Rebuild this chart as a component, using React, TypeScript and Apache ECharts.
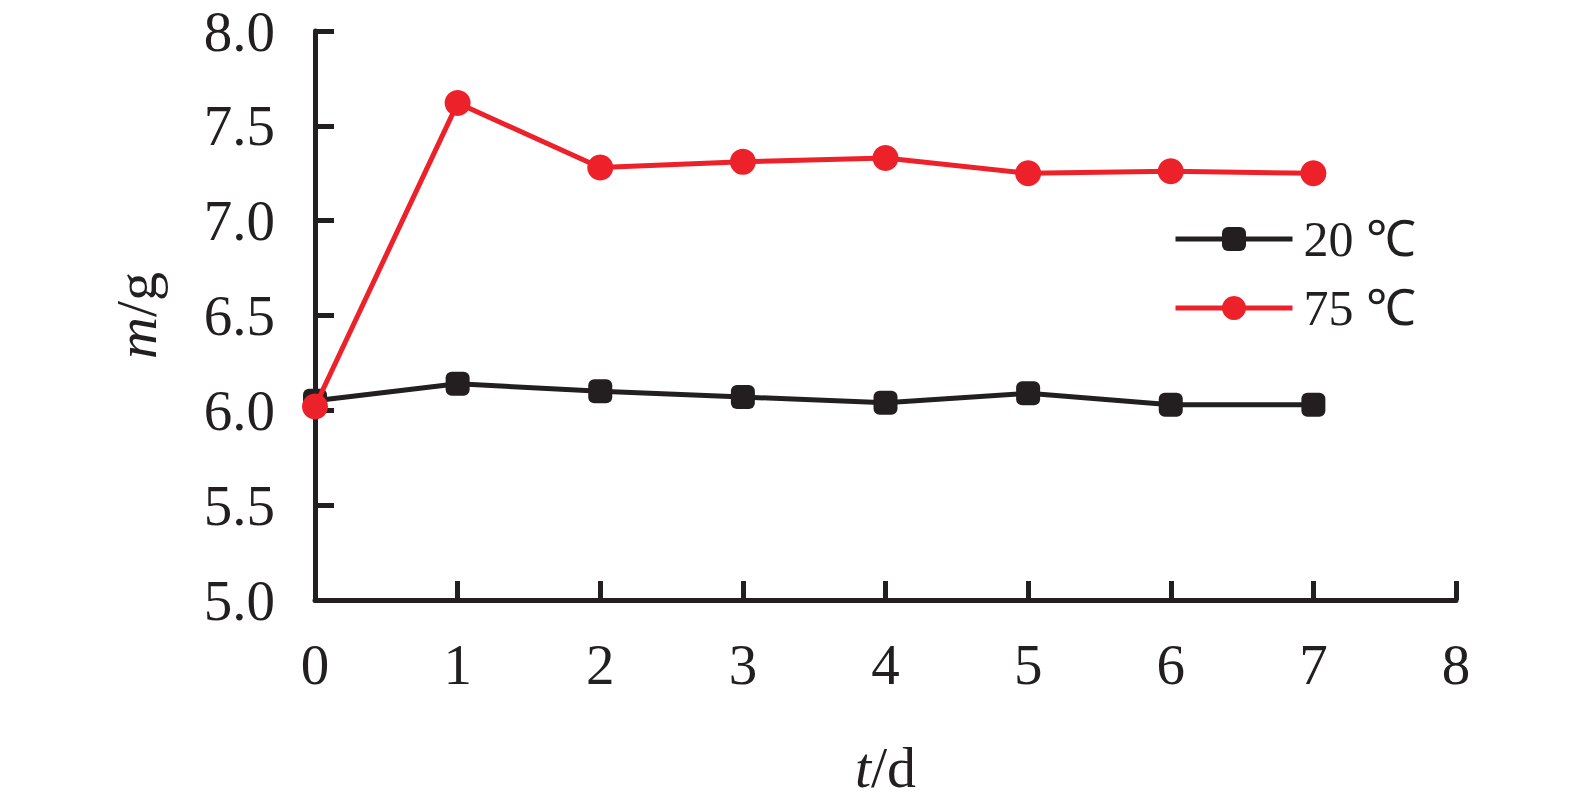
import React, { useEffect, useRef } from "react";
import * as echarts from "echarts";

const days = [0, 1, 2, 3, 4, 5, 6, 7];
const mass20 = [6.05, 6.14, 6.1, 6.07, 6.04, 6.09, 6.03, 6.03];
const mass75 = [6.02, 7.62, 7.28, 7.31, 7.33, 7.25, 7.26, 7.25];
const seriesNames = ["20 ℃", "75 ℃"];

const FONT = "'Liberation Serif', 'Times New Roman', serif";
const BLACK = "#231f20";
const RED = "#ed2129";

export default function App() {
  const ref = useRef<HTMLDivElement>(null);
  useEffect(() => {
    if (!ref.current) return;
    const chart = echarts.init(ref.current, undefined, { renderer: "svg" });
    chart.setOption({
      animation: false,
      backgroundColor: "#ffffff",
      grid: { left: 315, right: 119, top: 31, bottom: 205, containLabel: false },
      legend: {
        left: 1168,
        top: 209,
        orient: "vertical",
        itemWidth: 117,
        itemHeight: 30,
        itemGap: 19,
        lineStyle: { width: 5 },
        textStyle: {
          fontFamily: FONT,
          fontSize: 50,
          color: BLACK,
          padding: [0, 0, 0, 6],
        },
        data: seriesNames,
      },
      xAxis: {
        type: "value",
        min: 0,
        max: 8,
        interval: 1,
        name: "{i|t}/d",
        nameLocation: "middle",
        nameGap: 138,
        nameTextStyle: {
          fontFamily: FONT,
          fontSize: 58,
          color: BLACK,
          rich: { i: { fontFamily: FONT, fontSize: 58, fontStyle: "italic", color: BLACK } },
        },
        axisLine: { show: true, lineStyle: { color: BLACK, width: 5 } },
        axisTick: { show: true, inside: true, length: 19, lineStyle: { color: BLACK, width: 5 } },
        axisLabel: { fontFamily: FONT, fontSize: 57, color: BLACK, margin: 36 },
        splitLine: { show: false },
      },
      yAxis: {
        type: "value",
        min: 5,
        max: 8,
        interval: 0.5,
        name: "{i|m}/g",
        nameLocation: "middle",
        nameGap: 150,
        nameTextStyle: {
          fontFamily: FONT,
          fontSize: 58,
          color: BLACK,
          rich: { i: { fontFamily: FONT, fontSize: 58, fontStyle: "italic", color: BLACK } },
        },
        axisLine: { show: true, lineStyle: { color: BLACK, width: 5 } },
        axisTick: { show: true, inside: true, length: 19, lineStyle: { color: BLACK, width: 5 } },
        axisLabel: {
          fontFamily: FONT,
          fontSize: 57,
          color: BLACK,
          margin: 40,
          formatter: (v: number) => v.toFixed(1),
        },
        splitLine: { show: false },
      },
      series: [
        {
          name: seriesNames[0],
          type: "line",
          data: days.map((d, i) => [d, mass20[i]]),
          symbol: "roundRect",
          symbolSize: 24,
          lineStyle: { color: BLACK, width: 5 },
          itemStyle: { color: BLACK },
          z: 2,
        },
        {
          name: seriesNames[1],
          type: "line",
          data: days.map((d, i) => [d, mass75[i]]),
          symbol: "circle",
          symbolSize: 26,
          lineStyle: { color: RED, width: 5 },
          itemStyle: { color: RED },
          z: 3,
        },
      ],
    });
    return () => chart.dispose();
  }, []);
  return <div ref={ref} style={{ width: 1575, height: 805, position: "absolute", left: 0, top: 0 }} />;
}
